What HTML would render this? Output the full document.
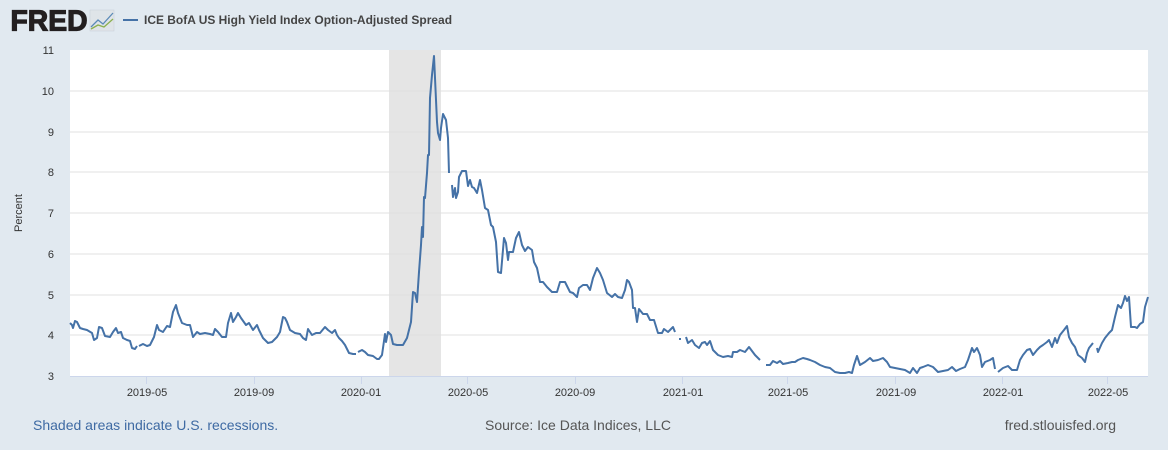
<!DOCTYPE html>
<html><head><meta charset="utf-8"><style>
html,body{margin:0;padding:0;background:#e1e9f0;}
svg{display:block;font-family:"Liberation Sans",sans-serif;}
</style></head><body>
<svg width="1168" height="450" viewBox="0 0 1168 450">
<rect width="1168" height="450" fill="#e1e9f0"/>
<text x="10.5" y="30.5" font-size="29" font-weight="bold" fill="#231f20" stroke="#231f20" stroke-width="1.2" textLength="77" lengthAdjust="spacingAndGlyphs">FRED</text>
<rect x="90" y="10" width="24" height="21" fill="#dfe4e8" stroke="#c8cfd6" stroke-width="0.5"/>
<polyline points="91,27 98,20 103,24 113,13" fill="none" stroke="#5b8ab8" stroke-width="1.3"/>
<polyline points="91,29 98,25 104,27 113,19" fill="none" stroke="#8cb04f" stroke-width="1.3"/>
<line x1="123" y1="20" x2="138" y2="20" stroke="#4572a7" stroke-width="2"/>
<text x="144" y="24" font-size="12.2" font-weight="bold" fill="#444" textLength="308" lengthAdjust="spacingAndGlyphs">ICE BofA US High Yield Index Option-Adjusted Spread</text>
<rect x="70" y="50" width="1078" height="326" fill="#fff"/>
<rect x="389" y="50" width="52" height="326" fill="#e5e5e5"/>
<g stroke="#e0e0e0" stroke-width="1">
<line x1="70" y1="91" x2="1148" y2="91"/><line x1="70" y1="132" x2="1148" y2="132"/>
<line x1="70" y1="172" x2="1148" y2="172"/><line x1="70" y1="213" x2="1148" y2="213"/>
<line x1="70" y1="254" x2="1148" y2="254"/><line x1="70" y1="295" x2="1148" y2="295"/>
<line x1="70" y1="335" x2="1148" y2="335"/>
</g>
<line x1="70" y1="376.5" x2="1148" y2="376.5" stroke="#ccd6eb"/>
<g stroke="#ccd6eb"><line x1="146.5" y1="376" x2="146.5" y2="384"/><line x1="254.5" y1="376" x2="254.5" y2="384"/><line x1="361.5" y1="376" x2="361.5" y2="384"/><line x1="467.5" y1="376" x2="467.5" y2="384"/><line x1="575.5" y1="376" x2="575.5" y2="384"/><line x1="682.5" y1="376" x2="682.5" y2="384"/><line x1="787.5" y1="376" x2="787.5" y2="384"/><line x1="895.5" y1="376" x2="895.5" y2="384"/><line x1="1002.5" y1="376" x2="1002.5" y2="384"/><line x1="1107.5" y1="376" x2="1107.5" y2="384"/></g>
<g font-size="11" fill="#333" text-anchor="end">
<text x="54" y="54">11</text><text x="54" y="95">10</text><text x="54" y="136">9</text><text x="54" y="176">8</text><text x="54" y="217">7</text><text x="54" y="258">6</text><text x="54" y="299">5</text><text x="54" y="339">4</text><text x="54" y="380">3</text>
</g>
<g font-size="11" fill="#333" text-anchor="middle">
<text x="147" y="396">2019-05</text><text x="254" y="396">2019-09</text><text x="361" y="396">2020-01</text><text x="468" y="396">2020-05</text><text x="575" y="396">2020-09</text><text x="683" y="396">2021-01</text><text x="788" y="396">2021-05</text><text x="896" y="396">2021-09</text><text x="1003" y="396">2022-01</text><text x="1108" y="396">2022-05</text>
</g>
<text transform="translate(22,213) rotate(-90)" font-size="11" fill="#333" text-anchor="middle">Percent</text>
<g fill="none" stroke="#4572a7" stroke-width="2" stroke-linejoin="round">
<polyline points="70,323 72,325 73,328 75,321 77,322 80,328 83,329 87,330 92,333 94,340 97,338 99,327 102,328 105,336 110,337 113,332 116,328 118,333 121,332 123,338 127,340 130,341 132,348 135,349 137,346"/>
<polyline points="139,346 143,344 147,346 150,345 154,337 157,325 159,330 163,332 167,326 170,327 173,312 176,305 178,313 182,323 187,325 190,325 193,337 197,332 200,334 205,333 210,334 213,335 215,329 218,332 222,337 226,337 228,323 231,313 233,322 236,317 238,313 241,318 246,325 249,323 253,330 257,325 259,330 263,338 268,343 272,342 277,337 280,332 283,317 285,318 287,322 290,330 295,333 300,334 303,338 306,340 308,329 312,335 316,333 320,333 325,327 328,330 332,333 335,330 337,335 339,338 342,341 345,345 349,353 353,354 356,354"/>
<polyline points="358,352 362,350 365,352 368,355 373,356 377,359 379,359 382,355 385,334 386,342 388,332 391,335 393,344 397,345 403,345 407,338 411,322 413,292 415,293 417,302 419,272 421,245 422,227 423,237 424,197 425,198 427,173 428,155 429,155 430,98 432,75 434,56 435,78 437,122 438,133 440,140 441,128 443,114 446,120 448,138 449,173"/>
<polyline points="452,185 453,197 455,188 456,198 458,192 459,177 462,171 466,171 468,186 470,180 472,187 474,188 477,193 480,180 482,190 485,208 488,210 491,225 493,227 496,242 498,272 501,273 504,238 506,243 508,260 509,252 513,252 516,238 519,232 522,245 525,251 528,247 532,250 534,262 537,268 540,282 543,282 547,287 552,292 557,292 560,282 565,282 570,292 573,293 577,297 579,288 583,285 587,285 590,290 593,278 597,268 600,273 603,280 607,293 612,297 615,294 618,297 622,298 625,290 627,280 629,282 632,290 633,308 635,308 637,322 639,309 643,314 647,314 650,320 654,320 658,333 662,333 664,329 668,332 673,327 675,332"/>
<polyline points="679,339 681,339"/>
<polyline points="686,337 688,343 692,340 695,345 699,348 702,343 705,342 707,345 710,341 713,350 718,355 723,357 728,356 732,357 733,352 737,352 740,350 745,352 749,347 752,351 755,355 760,360"/>
<polyline points="766,365 770,365 773,361 777,363 780,361 783,364 788,363 792,362 795,362 798,360 803,358 807,359 810,360 815,362 820,365 825,367 830,368 835,372 840,373 845,373 849,372 852,373 854,365 857,356 860,365 865,362 870,358 873,361 878,360 883,358 887,362 890,367 895,368 900,369 905,370 910,373 913,368 917,373 920,368 923,367 928,365 933,367 938,372 943,371 948,370 952,367 956,371 960,369 965,367 968,360 972,348 974,352 977,348 980,355 982,367 985,362 990,360 993,358 995,369"/>
<polyline points="998,372 1003,368 1008,366 1012,370 1017,370 1020,360 1023,355 1027,350 1030,349 1033,355 1037,350 1040,347 1043,345 1047,342 1049,340 1052,347 1055,338 1057,343 1060,335 1064,330 1067,326 1069,337 1072,343 1075,347 1078,355 1082,358 1085,362 1087,353 1089,348 1093,343"/>
<polyline points="1097,348 1098,352 1102,343 1105,338 1109,333 1112,330 1115,317 1118,305 1121,308 1123,303 1125,296 1127,301 1129,297 1131,327 1135,327 1137,328 1140,324 1143,322 1145,307 1148,297"/>
</g>
<text x="33" y="430" font-size="14" fill="#3e6aa3">Shaded areas indicate U.S. recessions.</text>
<text x="578" y="430" font-size="14" fill="#555" text-anchor="middle">Source: Ice Data Indices, LLC</text>
<text x="1116" y="430" font-size="14" fill="#555" text-anchor="end">fred.stlouisfed.org</text>
</svg>
</body></html>
